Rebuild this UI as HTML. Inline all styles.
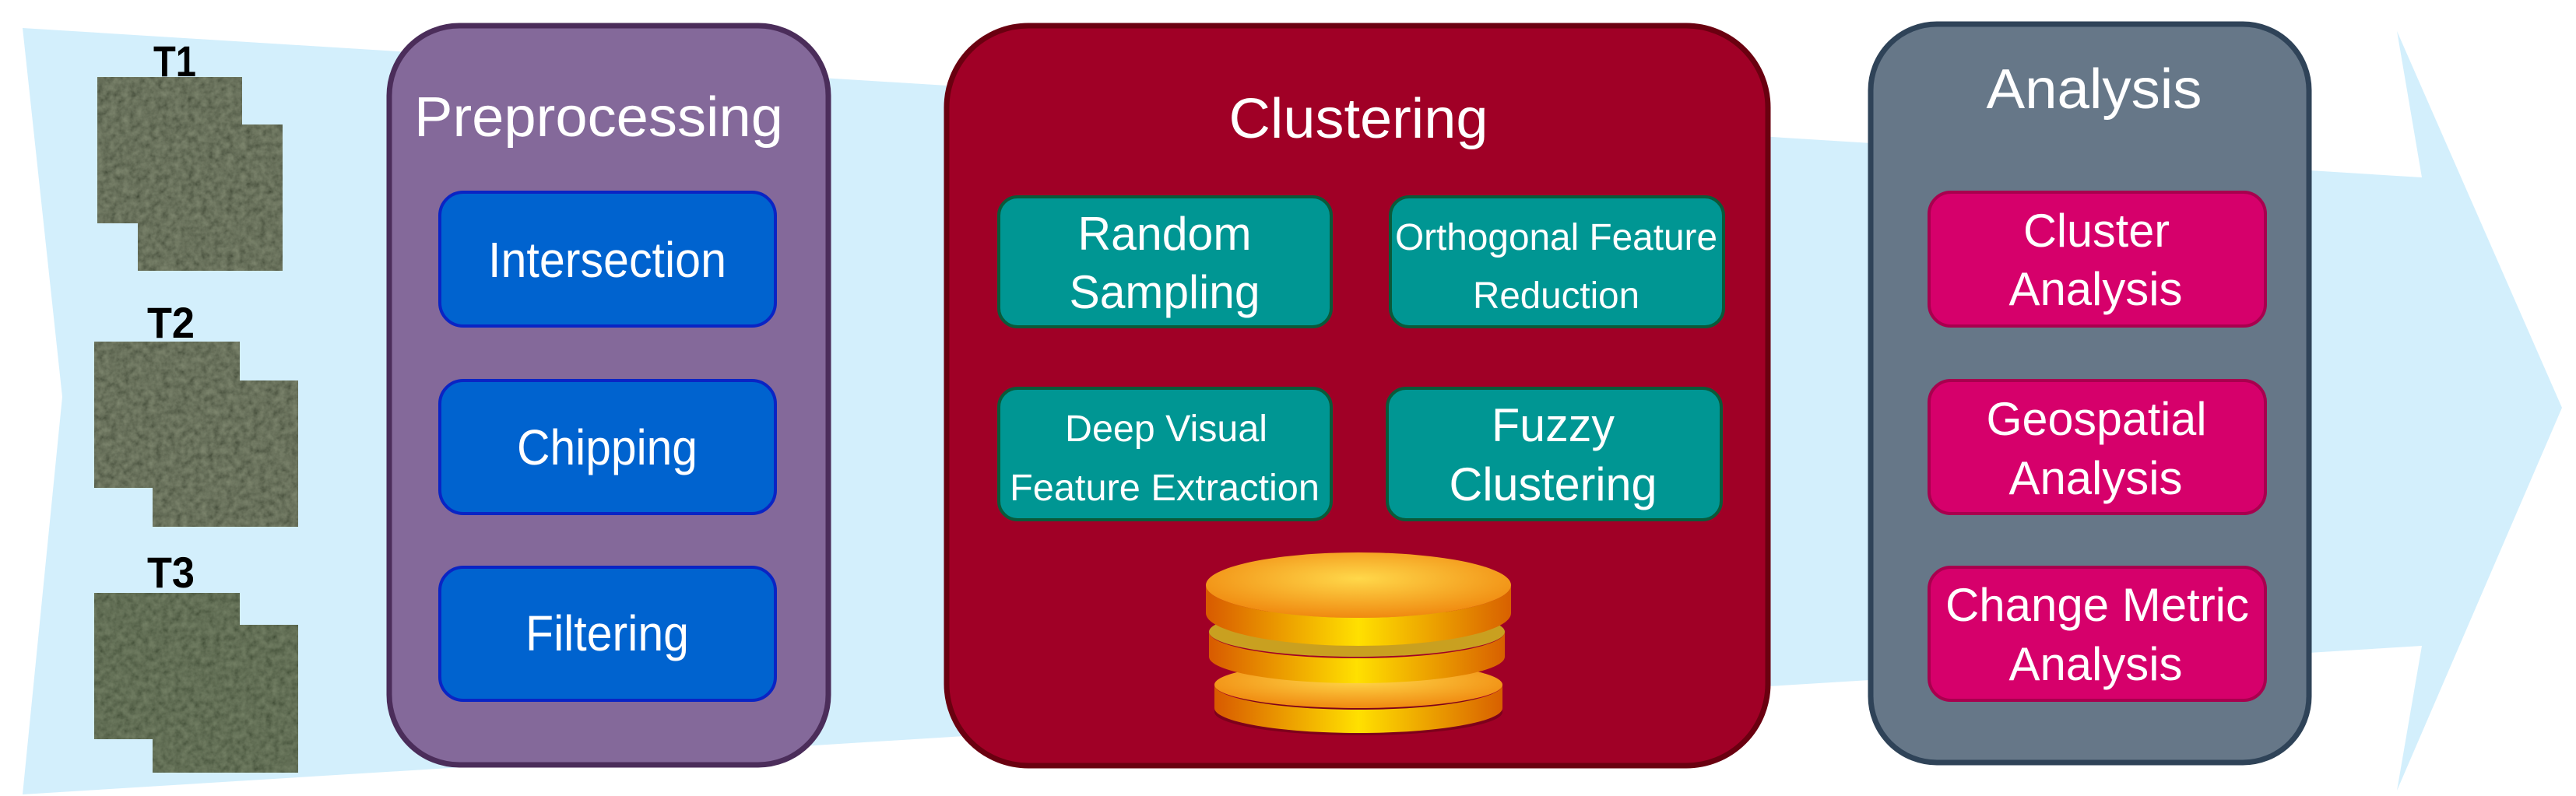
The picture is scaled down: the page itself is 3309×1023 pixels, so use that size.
<!DOCTYPE html>
<html><head><meta charset="utf-8"><style>
html,body{margin:0;padding:0;background:#fff;}
svg{display:block;}
text{font-family:"Liberation Sans",Arial,sans-serif;fill:#fff;}
</style></head><body>
<svg width="3309" height="1023" viewBox="0 0 3309 1023" xmlns="http://www.w3.org/2000/svg">
<defs>
<filter id="sat" x="0" y="0" width="100%" height="100%">
<feTurbulence type="fractalNoise" baseFrequency="0.12" numOctaves="3" seed="4" result="n"/>
<feColorMatrix in="n" type="matrix" values="1 0 0 0 0  1 0 0 0 0  0.8 0 0 0 0  0 0 0 0 1"/>
</filter>
<linearGradient id="gold" x1="0" y1="0" x2="1" y2="0">
<stop offset="0" stop-color="#d85a00"/><stop offset="0.5" stop-color="#ffe000"/><stop offset="1" stop-color="#d86000"/>
</linearGradient>
<radialGradient id="goldtop" cx="0.5" cy="0.4" r="0.6">
<stop offset="0" stop-color="#ffd84a"/><stop offset="1" stop-color="#f08a10"/>
</radialGradient>
</defs>

<polygon points="29,36 3111,228 3079,40 3291,524 3079,1016 3111,830 29,1021 80,510" fill="#d3effc"/>

<g>
<rect x="125" y="99" width="186" height="188" fill="#3d4a32"/>
<rect x="125" y="99" width="186" height="188" filter="url(#sat)" opacity="0.35"/>
<rect x="177" y="160" width="186" height="188" fill="#3d4a32"/>
<rect x="177" y="160" width="186" height="188" filter="url(#sat)" opacity="0.35"/>
<rect x="121" y="439" width="187" height="188" fill="#3d4a32"/>
<rect x="121" y="439" width="187" height="188" filter="url(#sat)" opacity="0.35"/>
<rect x="196" y="489" width="187" height="188" fill="#3d4a32"/>
<rect x="196" y="489" width="187" height="188" filter="url(#sat)" opacity="0.35"/>
<rect x="121" y="762" width="187" height="188" fill="#3b4d30"/>
<rect x="121" y="762" width="187" height="188" filter="url(#sat)" opacity="0.3"/>
<rect x="196" y="803" width="187" height="190" fill="#3b4d30"/>
<rect x="196" y="803" width="187" height="190" filter="url(#sat)" opacity="0.3"/>
</g>
<text x="197" y="98" font-size="56" font-weight="bold" style="fill:#000" textLength="55" lengthAdjust="spacingAndGlyphs">T1</text>
<text x="189" y="434" font-size="56" font-weight="bold" style="fill:#000" textLength="61" lengthAdjust="spacingAndGlyphs">T2</text>
<text x="189" y="755" font-size="56" font-weight="bold" style="fill:#000" textLength="61" lengthAdjust="spacingAndGlyphs">T3</text>

<rect x="500" y="33" width="564" height="950" rx="90" ry="90" fill="#84699a" stroke="#4b2d5a" stroke-width="7"/>
<text x="769" y="175" font-size="72" text-anchor="middle" textLength="474" lengthAdjust="spacingAndGlyphs">Preprocessing</text>
<g fill="#0063cf" stroke="#0a24c4" stroke-width="4">
<rect x="565" y="247" width="431" height="172" rx="30"/>
<rect x="565" y="489" width="431" height="171" rx="30"/>
<rect x="565" y="729" width="431" height="171" rx="30"/>
</g>
<text x="780" y="356" font-size="64" text-anchor="middle" textLength="306" lengthAdjust="spacingAndGlyphs">Intersection</text>
<text x="780" y="597" font-size="64" text-anchor="middle" textLength="232" lengthAdjust="spacingAndGlyphs">Chipping</text>
<text x="780" y="836" font-size="64" text-anchor="middle" textLength="210" lengthAdjust="spacingAndGlyphs">Filtering</text>

<rect x="1216" y="33" width="1055" height="951" rx="105" ry="105" fill="#a00026" stroke="#6a0010" stroke-width="7"/>
<text x="1745" y="177" font-size="72" text-anchor="middle" textLength="333" lengthAdjust="spacingAndGlyphs">Clustering</text>
<g fill="#009693" stroke="#0a5a3a" stroke-width="4">
<rect x="1283" y="253" width="427" height="167" rx="24"/>
<rect x="1786" y="253" width="428" height="167" rx="24"/>
<rect x="1283" y="499" width="427" height="169" rx="24"/>
<rect x="1782" y="499" width="429" height="169" rx="24"/>
</g>
<text x="1496" y="321" font-size="60" text-anchor="middle" textLength="223" lengthAdjust="spacingAndGlyphs">Random</text>
<text x="1496" y="396" font-size="60" text-anchor="middle" textLength="245" lengthAdjust="spacingAndGlyphs">Sampling</text>
<text x="1999" y="321" font-size="48" text-anchor="middle" textLength="414" lengthAdjust="spacingAndGlyphs">Orthogonal Feature</text>
<text x="1999" y="396" font-size="48" text-anchor="middle" textLength="214" lengthAdjust="spacingAndGlyphs">Reduction</text>
<text x="1498" y="567" font-size="48" text-anchor="middle" textLength="260" lengthAdjust="spacingAndGlyphs">Deep Visual</text>
<text x="1496" y="643" font-size="48" text-anchor="middle" textLength="398" lengthAdjust="spacingAndGlyphs">Feature Extraction</text>
<text x="1995" y="567" font-size="60" text-anchor="middle" textLength="158" lengthAdjust="spacingAndGlyphs">Fuzzy</text>
<text x="1995" y="643" font-size="60" text-anchor="middle" textLength="267" lengthAdjust="spacingAndGlyphs">Clustering</text>

<g>
<ellipse cx="1745" cy="915" rx="185" ry="30" fill="#5a0010" opacity="0.5"/>
<path d="M1560,880 a185,32 0 0,0 370,0 v30 a185,32 0 0,1 -370,0z" fill="url(#gold)"/>
<ellipse cx="1745" cy="880" rx="185" ry="30" fill="url(#goldtop)"/>
<path d="M1553,812 a190,34 0 0,0 380,0 v32 a190,34 0 0,1 -380,0z" fill="url(#gold)"/>
<ellipse cx="1743" cy="812" rx="190" ry="32" fill="#c9a020"/>
<path d="M1549,752 a196,42 0 0,0 392,0 v36 a196,42 0 0,1 -392,0z" fill="url(#gold)"/>
<ellipse cx="1745" cy="752" rx="196" ry="42" fill="url(#goldtop)"/>
</g>

<rect x="2403" y="31" width="563" height="949" rx="85" ry="85" fill="#667788" stroke="#2f4358" stroke-width="7"/>
<text x="2690" y="139" font-size="72" text-anchor="middle" textLength="277" lengthAdjust="spacingAndGlyphs">Analysis</text>
<g fill="#d6006b" stroke="#a8004e" stroke-width="4">
<rect x="2478" y="247" width="432" height="172" rx="28"/>
<rect x="2478" y="489" width="432" height="171" rx="28"/>
<rect x="2478" y="729" width="432" height="171" rx="28"/>
</g>
<text x="2693" y="317" font-size="60" text-anchor="middle" textLength="188" lengthAdjust="spacingAndGlyphs">Cluster</text>
<text x="2692" y="392" font-size="60" text-anchor="middle" textLength="223" lengthAdjust="spacingAndGlyphs">Analysis</text>
<text x="2693" y="559" font-size="60" text-anchor="middle" textLength="283" lengthAdjust="spacingAndGlyphs">Geospatial</text>
<text x="2692" y="635" font-size="60" text-anchor="middle" textLength="223" lengthAdjust="spacingAndGlyphs">Analysis</text>
<text x="2694" y="798" font-size="60" text-anchor="middle" textLength="390" lengthAdjust="spacingAndGlyphs">Change Metric</text>
<text x="2692" y="874" font-size="60" text-anchor="middle" textLength="223" lengthAdjust="spacingAndGlyphs">Analysis</text>
</svg>
</body></html>
